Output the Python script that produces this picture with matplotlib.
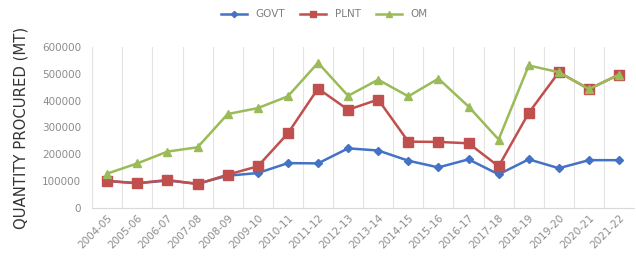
import matplotlib
matplotlib.use("Agg")
import matplotlib.pyplot as plt
import numpy as np

years = ["2004-05", "2005-06", "2006-07", "2007-08", "2008-09", "2009-10", "2010-11",
         "2011-12", "2012-13", "2013-14", "2014-15", "2015-16", "2016-17", "2017-18",
         "2018-19", "2019-20", "2020-21", "2021-22"]
govt = [100000, 92000, 102000, 90000, 120000, 130000, 167000, 166000, 222000, 214000,
        176000, 151000, 181000, 125000, 181000, 148000, 178000, 178000]
plnt = [101000, 92000, 104000, 89000, 124000, 155000, 278000, 445000, 366000, 404000,
        247000, 246000, 241000, 155000, 354000, 506000, 443000, 497000]
om = [128000, 166000, 210000, 226000, 350000, 372000, 416000, 541000, 418000, 478000,
      416000, 482000, 378000, 255000, 531000, 506000, 443000, 497000]
yticks = [0, 100000, 200000, 300000, 400000, 500000, 600000]

fig = plt.figure(figsize=(6.36, 2.70), dpi=100)
ax = fig.add_axes([0.145, 0.23, 0.852, 0.596])
x = np.arange(len(years))
ax.plot(x, govt, color="#4472C4", marker="D", markersize=4.5, linewidth=1.8, label="GOVT")
ax.plot(x, plnt, color="#C0504D", marker="s", markersize=6.5, linewidth=1.8, label="PLNT")
ax.plot(x, om, color="#9BBB59", marker="^", markersize=6, linewidth=1.8, label="OM")

ax.set_xlim(-0.5, len(years) - 0.5)
ax.set_ylim(0, 600000)
ax.set_yticks(yticks)
ax.set_yticklabels([str(v) for v in yticks], fontsize=7.5, color="#8c8c8c")
ax.set_xticks(x)
ax.set_xticklabels(years, rotation=45, ha="right", rotation_mode="anchor", fontsize=7.5, color="#8c8c8c")
ax.set_xticks(np.arange(-0.5, len(years), 1.0), minor=True)
ax.grid(True, which="minor", axis="x", color="#e3e3e3", linewidth=0.8)
ax.grid(False, which="major")
ax.tick_params(axis="both", which="both", length=0)
ax.tick_params(axis="y", pad=8)
for s in ["top", "right"]:
    ax.spines[s].set_visible(False)
ax.spines["left"].set_color("#e3e3e3")
ax.spines["bottom"].set_color("#d9d9d9")
ax.set_ylabel("QUANTITY PROCURED (MT)", fontsize=10.7, color="#333333", labelpad=10)
fig.legend(loc="upper center", bbox_to_anchor=(0.51, 1.0), ncol=3, frameon=False,
           fontsize=7.5, handlelength=2.5, columnspacing=1.5, markerscale=0.7,
           labelcolor="#7f7f7f")
fig.savefig("out.png", dpi=100)
